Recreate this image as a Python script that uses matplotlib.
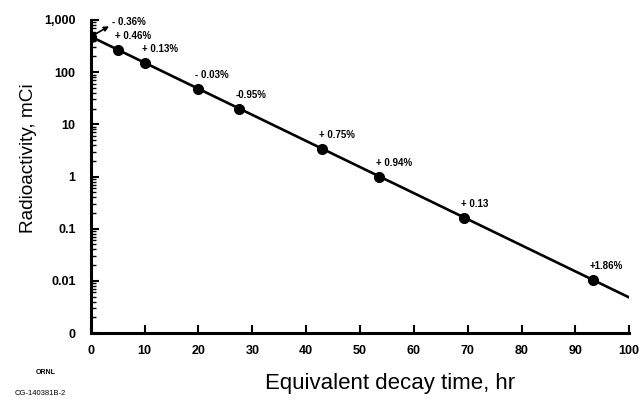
import matplotlib
matplotlib.use("Agg")
import matplotlib.pyplot as plt
from matplotlib.ticker import FixedLocator, LogLocator, NullFormatter

plt.rcParams['font.family'] = ['Liberation Sans', 'DejaVu Sans']

# measured points (time in hr, activity in mCi)
decay_time = [0, 5, 10, 20, 27.5, 43, 53.5, 69.4, 93.3]
activity = [479, 268, 152, 47.5, 19.8, 3.3, 1.0, 0.158, 0.0105]
deviation = ["- 0.36%", "+ 0.46%", "+ 0.13%", "- 0.03%", "-0.95%",
             "+ 0.75%", "+ 0.94%", "+ 0.13", "+1.86%"]

# fitted decay line
line_time = [0, 100]
line_activity = [480, 0.0048]

y_ticks = [0.001, 0.01, 0.1, 1, 10, 100, 1000]
y_labels = ["0", "0.01", "0.1", "1", "10", "100", "1,000"]
x_ticks = [0, 10, 20, 30, 40, 50, 60, 70, 80, 90, 100]

fig = plt.figure(figsize=(6.44, 4.0), dpi=100)
ax = fig.add_axes([0.141, 0.1675, 0.836, 0.7825])

ax.plot(line_time, line_activity, color='black', lw=1.9, zorder=2)
ax.plot(decay_time, activity, 'o', color='black', ms=7, zorder=3)

for i, (t, a, lab) in enumerate(zip(decay_time, activity, deviation)):
    if i == 0:
        ax.annotate(lab, xy=(t, a), xytext=(21, 10), textcoords='offset pixels',
                    fontsize=7, fontweight='bold', va='bottom', ha='left',
                    arrowprops=dict(arrowstyle='<|-', color='black', lw=1.2,
                                    shrinkA=0, shrinkB=0, mutation_scale=7,
                                    relpos=(0, 0.2)))
    else:
        ax.annotate(lab, xy=(t, a), xytext=(-3, 9), textcoords='offset pixels',
                    fontsize=7, fontweight='bold', va='bottom', ha='left')

ax.set_yscale('log')
ax.set_ylim(0.001, 1000)
ax.set_xlim(0, 100)
ax.yaxis.set_major_locator(FixedLocator(y_ticks))
ax.set_yticklabels(y_labels)
ax.yaxis.set_minor_locator(LogLocator(base=10, subs=range(2, 10), numticks=20))
ax.yaxis.set_minor_formatter(NullFormatter())
ax.set_xticks(x_ticks)

for s in ['top', 'right']:
    ax.spines[s].set_visible(False)
for s in ['left', 'bottom']:
    ax.spines[s].set_linewidth(2.2)

ax.tick_params(axis='both', which='major', direction='in', length=6, width=1.5,
               labelsize=9)
ax.tick_params(axis='x', which='major', pad=9)
ax.tick_params(axis='y', which='major', pad=11)
ax.tick_params(axis='y', which='minor', direction='in', length=3.5, width=1.0)
for lab in ax.get_xticklabels() + ax.get_yticklabels():
    lab.set_fontweight('bold')

ax.set_xlabel("Equivalent decay time, hr", fontsize=16)
ax.set_ylabel("Radioactivity, mCi", fontsize=13.7)
ax.xaxis.set_label_coords(0.556, -0.128)
ax.yaxis.set_label_coords(-0.1, 0.559)

fig.text(0.023, 0.012, "CG-140381B-2", fontsize=5.5)
fig.text(0.055, 0.065, "ORNL", fontsize=5, fontweight='bold')

fig.savefig("out.png", dpi=100)
